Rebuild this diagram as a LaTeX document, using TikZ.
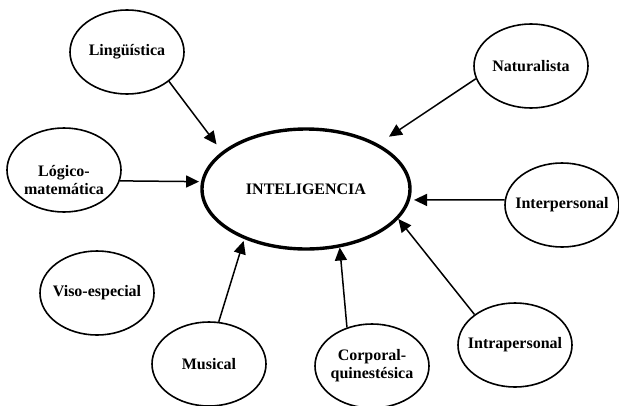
\documentclass[tikz,border=0pt]{standalone}
\usepackage{fontspec}
\setmainfont{Liberation Serif}
\usetikzlibrary{
  arrows.meta,
  shapes.geometric
}
\tikzset{
  % For the texts inside the ellipses.
  label text/.style={
    align=center,
    font=\fontsize{16}{18}\selectfont\bfseries},
%
  % For the kinds of intelligence.
  idea/.style={
    label text,
    ellipse,
    draw,
    line width=1.6pt,
    minimum width=114pt,
    minimum height=84pt,
    inner xsep=-20pt,
    inner ysep=0pt},
%
  % For the central concept.
  core/.style={
    idea,
    line width=3.4pt,
    minimum width=208pt,
    minimum height=120pt},
%
  % For the connectors.
  link/.style={
    line width=1.5pt,
    -{Triangle[length=13pt,width=12pt]}},
}

\begin{document}
\begin{tikzpicture}[x=1pt,y=-1pt]
  \useasboundingbox (0,0) rectangle (619,405);

  \node[core] (intel) at (306,189) {INTELIGENCIA};

  \node[idea] (ling) at (127,52) {Lingüística};
  \node[idea, label={[label text, yshift=-10pt]center:Lógico-\\matemática}]
    (logic) at (64,170) {};
  \node[idea] (viso) at (97,293) {Viso-especial};
  \node[idea] (music) at (209,364) {Musical};
  \node[idea] (body) at (372,366) {Corporal-\\quinestésica};
  \node[idea] (intra) at (515,345) {Intrapersonal};
  \node[idea] (inter) at (562,205) {Interpersonal};
  \node[idea] (nat) at (531,66) {Naturalista};

  \draw[link, shorten >=9pt] (ling.-35) -- (intel.156);
  \draw[link, shorten >=2pt] (logic.-11) -- (intel.176);
  \draw[link, shorten >=2pt] (music.77) -- (intel.219);
  \draw[link] (body.123) -- (intel.-60);
  \draw[link] (intra.143) -- (intel.-18);
  \draw[link, shorten >=4pt] (inter.175) -- (intel.-6);
  \draw[link, shorten >=13pt] (nat.193) -- (intel.32);
\end{tikzpicture}
\end{document}
